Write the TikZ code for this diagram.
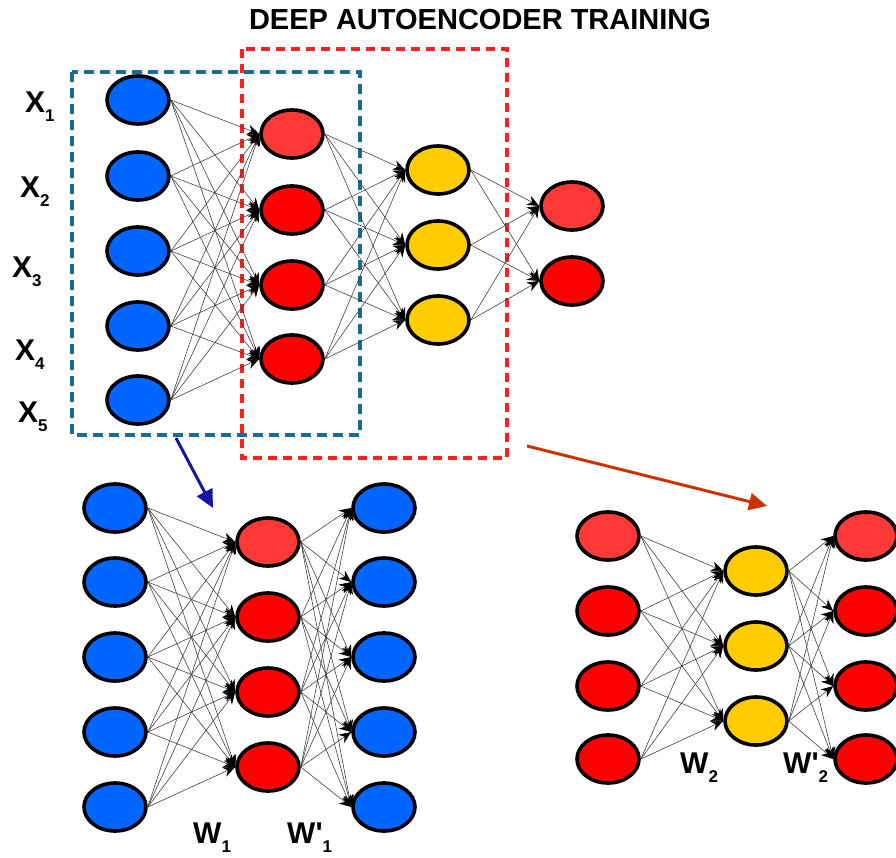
\documentclass[tikz,border=0pt]{standalone}
\usepackage{fontspec}
\setmainfont{Liberation Sans}
\usetikzlibrary{arrows.meta,shapes.geometric}
\definecolor{unitblue}{RGB}{0,102,255}
\definecolor{unitred}{RGB}{255,0,0}
\definecolor{unitpink}{RGB}{255,56,56}
\definecolor{unityellow}{RGB}{255,204,0}
\definecolor{boxblue}{RGB}{24,108,150}
\definecolor{boxred}{RGB}{255,32,32}
\definecolor{arrownavy}{RGB}{22,22,160}
\definecolor{arrowrust}{RGB}{204,51,0}
\newcommand{\lowidx}[1]{\raisebox{-0.3em}{\fontsize{17}{17}\selectfont #1}}

\begin{document}
\begin{tikzpicture}[x=1pt,y=-1pt,
  unit/.style={ellipse,draw=black,line width=3.6pt,minimum width=62pt,minimum height=48pt,inner sep=0pt},
  blueunit/.style={unit,fill=unitblue},
  redunit/.style={unit,fill=unitred},
  pinkunit/.style={unit,fill=unitpink},
  yellowunit/.style={unit,fill=unityellow},
  link/.style={black!75,line width=0.6pt,-{Stealth[length=12pt,width=10pt,black]}},
  lbl/.style={font=\fontsize{30}{32}\selectfont\bfseries,inner sep=0pt,anchor=base west}]
\useasboundingbox (0,0) rectangle (896,858);

% title
\node[font=\fontsize{29}{31}\selectfont\bfseries,inner sep=0pt] (title) at (480,20) {DEEP AUTOENCODER TRAINING};

% dashed boxes
\draw[boxblue,line width=3.6pt,dash pattern=on 10pt off 6pt] (72,72) rectangle (360,435);
\draw[boxred,line width=3.6pt,dash pattern=on 9pt off 6pt] (242,49) rectangle (507,458);

% top network
\node[blueunit] (in1) at (138,100) {};
\node[blueunit] (in2) at (138,176) {};
\node[blueunit] (in3) at (138,251) {};
\node[blueunit] (in4) at (138,326) {};
\node[blueunit] (in5) at (138,400) {};
\node[pinkunit] (hA1) at (292,134) {};
\node[redunit] (hA2) at (292,210) {};
\node[redunit] (hA3) at (292,285) {};
\node[redunit] (hA4) at (292,359) {};
\node[yellowunit] (hB1) at (438,170) {};
\node[yellowunit] (hB2) at (438,245) {};
\node[yellowunit] (hB3) at (438,320) {};
\node[pinkunit] (out1) at (572,206) {};
\node[redunit] (out2) at (572,281) {};

\node[lbl] (x1) at (25,113) {X\lowidx{1}};
\node[lbl] (x2) at (20,198) {X\lowidx{2}};
\node[lbl] (x3) at (12,278) {X\lowidx{3}};
\node[lbl] (x4) at (15,360) {X\lowidx{4}};
\node[lbl] (x5) at (18,422) {X\lowidx{5}};

\foreach \i in {1,...,5} \foreach \j in {1,...,4} \draw[link] (in\i.east) -- (hA\j.west);
\foreach \i in {1,...,4} \foreach \j in {1,...,3} \draw[link] (hA\i.east) -- (hB\j.west);
\foreach \i in {1,...,3} \foreach \j in {1,2} \draw[link] (hB\i.east) -- (out\j.west);

% bottom left network
\node[blueunit] (lin1) at (115,508) {};
\node[blueunit] (lin2) at (115,582) {};
\node[blueunit] (lin3) at (115,657) {};
\node[blueunit] (lin4) at (115,732) {};
\node[blueunit] (lin5) at (115,807) {};
\node[pinkunit] (lhid1) at (268,542) {};
\node[redunit] (lhid2) at (268,617) {};
\node[redunit] (lhid3) at (268,692) {};
\node[redunit] (lhid4) at (268,767) {};
\node[blueunit] (lout1) at (384,508) {};
\node[blueunit] (lout2) at (384,582) {};
\node[blueunit] (lout3) at (384,657) {};
\node[blueunit] (lout4) at (384,732) {};
\node[blueunit] (lout5) at (384,807) {};

\foreach \i in {1,...,5} \foreach \j in {1,...,4} \draw[link] (lin\i.east) -- (lhid\j.west);
\foreach \i in {1,...,4} \foreach \j in {1,...,5} \draw[link] (lhid\i.east) -- (lout\j.west);

\node[lbl] (w1) at (193,843) {W\lowidx{1}};
\node[lbl] (w1t) at (287,843) {W\textquotesingle\lowidx{1}};

% bottom right network
\node[pinkunit] (rin1) at (608,536) {};
\node[redunit] (rin2) at (608,611) {};
\node[redunit] (rin3) at (608,686) {};
\node[redunit] (rin4) at (608,759) {};
\node[yellowunit] (rhid1) at (756,571) {};
\node[yellowunit] (rhid2) at (756,646) {};
\node[yellowunit] (rhid3) at (756,721) {};
\node[pinkunit] (rout1) at (866,536) {};
\node[redunit] (rout2) at (866,611) {};
\node[redunit] (rout3) at (866,686) {};
\node[redunit] (rout4) at (866,759) {};

\foreach \i in {1,...,4} \foreach \j in {1,...,3} \draw[link] (rin\i.east) -- (rhid\j.west);
\foreach \i in {1,...,3} \foreach \j in {1,...,4} \draw[link] (rhid\i.east) -- (rout\j.west);

\node[lbl] (w2) at (680,773) {W\lowidx{2}};
\node[lbl] (w2t) at (783,773) {W\textquotesingle\lowidx{2}};

% arrows to the two stages
\coordinate (bluefrom) at (176,438);
\coordinate (blueto) at (213,508);
\coordinate (redfrom) at (527,446);
\coordinate (redto) at (767,506);
\draw[arrownavy,line width=3pt,-{Triangle[length=18pt,width=17pt]}] (bluefrom) -- (blueto);
\draw[arrowrust,line width=3pt,-{Triangle[length=18pt,width=17pt]}] (redfrom) -- (redto);
\end{tikzpicture}
\end{document}
